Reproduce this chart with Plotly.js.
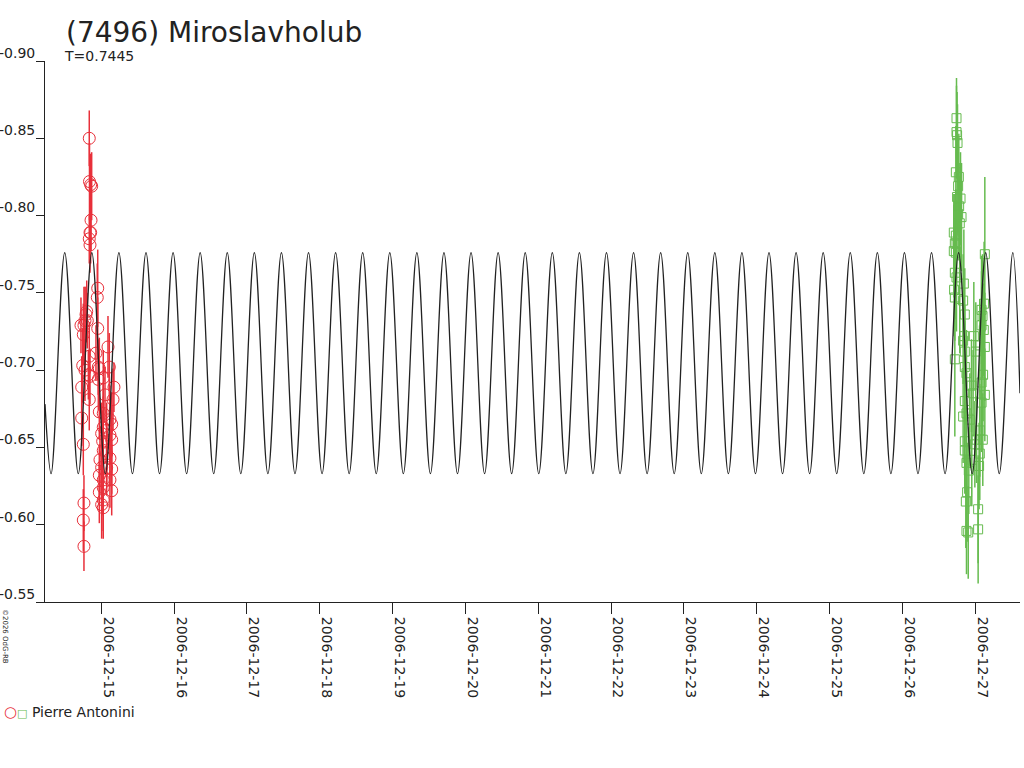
<!DOCTYPE html>
<html>
<head>
<meta charset="utf-8">
<script src="https://cdn.plot.ly/plotly-3.0.1.min.js"></script>
<style>
	html, body { margin: 0; padding: 0; background: #fff; }
	#chart { width: 1024px; height: 768px; }
</style>
</head>
<body>
<div id="chart"></div>
<script>
'use strict';

// times are days counted from 2006-12-15 00:00 UT
const redDay = [-0.165, -0.162, -0.146, -0.132, -0.141, -0.155, -0.146, -0.165, -0.155, -0.049,
	-0.055, -0.200, -0.210, -0.224, -0.238, -0.192, -0.049, -0.247, -0.165, -0.255,
	-0.224, -0.041, -0.027, 0.110, -0.155, -0.178, -0.041, 0.027, -0.269, 0.174,
	-0.165, -0.027, 0.027, 0.119, 0.143, -0.269, 0.027, 0.074, 0.005, 0.119,
	-0.247, 0.143, 0.019, 0.027, 0.074, -0.018, 0.119, 0.005, 0.074, 0.143,
	-0.027, 0.027, 0.119, -0.027, 0.027, 0.143, 0.027, 0.005, -0.238, 0.027,
	-0.247, -0.238, -0.279, 0.092, -0.073, 0.161, 0.051];
const redMag = [-0.850, -0.822, -0.820, -0.819, -0.797, -0.789, -0.789, -0.785, -0.781, -0.753,
	-0.747, -0.738, -0.736, -0.732, -0.729, -0.732, -0.727, -0.723, -0.709, -0.703,
	-0.700, -0.702, -0.701, -0.702, -0.696, -0.697, -0.694, -0.695, -0.689, -0.689,
	-0.681, -0.673, -0.672, -0.668, -0.665, -0.669, -0.663, -0.661, -0.659, -0.658,
	-0.652, -0.655, -0.654, -0.648, -0.646, -0.642, -0.643, -0.637, -0.637, -0.636,
	-0.632, -0.629, -0.629, -0.621, -0.624, -0.622, -0.616, -0.613, -0.614, -0.611,
	-0.603, -0.586, -0.729, -0.715, -0.711, -0.681, -0.684];
const redErr = [0.018, 0.025, 0.020, 0.022, 0.020, 0.018, 0.020, 0.016, 0.018, 0.025,
	0.022, 0.020, 0.018, 0.022, 0.025, 0.018, 0.020, 0.020, 0.022, 0.024,
	0.020, 0.018, 0.020, 0.022, 0.018, 0.016, 0.020, 0.018, 0.020, 0.016,
	0.020, 0.018, 0.020, 0.022, 0.020, 0.018, 0.020, 0.018, 0.020, 0.018,
	0.020, 0.022, 0.020, 0.018, 0.020, 0.022, 0.018, 0.020, 0.018, 0.016,
	0.020, 0.022, 0.018, 0.020, 0.018, 0.016, 0.020, 0.022, 0.018, 0.020,
	0.020, 0.016, 0.018, 0.020, 0.018, 0.020, 0.018];

const greenDay = [11.745, 11.745, 11.753, 11.759, 11.736, 11.777, 11.767, 11.753, 11.800, 11.781,
	11.767, 11.814, 11.790, 11.708, 11.736, 11.745, 11.722, 11.708, 11.736, 12.134,
	11.722, 11.745, 11.712, 11.722, 11.790, 11.836, 11.846, 12.124, 12.089, 11.859,
	12.102, 12.089, 12.120, 11.850, 11.983, 11.836, 12.134, 12.065, 11.859, 12.010,
	11.722, 11.859, 11.882, 12.110, 12.089, 11.951, 11.973, 11.859, 12.089, 11.836,
	11.882, 12.065, 12.020, 11.859, 11.859, 12.065, 12.055, 11.882, 11.891, 11.873,
	12.042, 11.906, 11.882, 12.042, 11.928, 11.997, 11.955, 12.134, 11.914, 12.106];
const greenMag = [-0.863, -0.854, -0.852, -0.847, -0.828, -0.825, -0.819, -0.812, -0.811, -0.806,
	-0.801, -0.799, -0.795, -0.789, -0.787, -0.782, -0.782, -0.777, -0.776, -0.775,
	-0.763, -0.760, -0.752, -0.747, -0.746, -0.745, -0.756, -0.743, -0.739, -0.736,
	-0.735, -0.729, -0.726, -0.722, -0.722, -0.719, -0.715, -0.716, -0.712, -0.712,
	-0.707, -0.702, -0.698, -0.697, -0.692, -0.690, -0.685, -0.680, -0.679, -0.670,
	-0.672, -0.661, -0.655, -0.654, -0.648, -0.646, -0.638, -0.640, -0.621, -0.615,
	-0.610, -0.595, -0.596, -0.597, -0.668, -0.652, -0.642, -0.684, -0.635, -0.655];
const greenErr = [0.026, 0.030, 0.028, 0.025, 0.030, 0.028, 0.030, 0.025, 0.030, 0.028,
	0.030, 0.035, 0.030, 0.025, 0.030, 0.028, 0.032, 0.030, 0.028, 0.050,
	0.030, 0.035, 0.030, 0.028, 0.035, 0.030, 0.035, 0.040, 0.035, 0.030,
	0.040, 0.035, 0.030, 0.030, 0.035, 0.028, 0.035, 0.030, 0.030, 0.032,
	0.050, 0.030, 0.028, 0.030, 0.032, 0.030, 0.028, 0.030, 0.032, 0.030,
	0.028, 0.030, 0.028, 0.030, 0.028, 0.030, 0.028, 0.030, 0.032, 0.030,
	0.035, 0.030, 0.028, 0.035, 0.030, 0.028, 0.030, 0.030, 0.028, 0.030];

// fitted curve, read at its turning points
const fitDay = [-0.773, -0.689, -0.502, -0.316, -0.130, 0.056, 0.242, 0.428, 0.614, 0.800,
	0.986, 1.172, 1.358, 1.544, 1.730, 1.916, 2.102, 2.288, 2.474, 2.660,
	2.846, 3.032, 3.218, 3.404, 3.590, 3.776, 3.962, 4.148, 4.334, 4.520,
	4.706, 4.892, 5.078, 5.264, 5.450, 5.636, 5.822, 6.008, 6.194, 6.380,
	6.566, 6.752, 6.938, 7.124, 7.310, 7.496, 7.682, 7.868, 8.054, 8.240,
	8.426, 8.612, 8.798, 8.984, 9.170, 9.356, 9.542, 9.728, 9.914, 10.100,
	10.286, 10.472, 10.658, 10.844, 11.030, 11.216, 11.402, 11.588, 11.774, 11.960,
	12.146, 12.332, 12.518, 12.617];
const fitMag = [-0.678, -0.633, -0.776, -0.633, -0.776, -0.633, -0.776, -0.633, -0.776, -0.633,
	-0.776, -0.633, -0.776, -0.633, -0.776, -0.633, -0.776, -0.633, -0.776, -0.633,
	-0.776, -0.633, -0.776, -0.633, -0.776, -0.633, -0.776, -0.633, -0.776, -0.633,
	-0.776, -0.633, -0.776, -0.633, -0.776, -0.633, -0.776, -0.633, -0.776, -0.633,
	-0.776, -0.633, -0.776, -0.633, -0.776, -0.633, -0.776, -0.633, -0.776, -0.633,
	-0.776, -0.633, -0.776, -0.633, -0.776, -0.633, -0.776, -0.633, -0.776, -0.633,
	-0.776, -0.633, -0.776, -0.633, -0.776, -0.633, -0.776, -0.633, -0.776, -0.633,
	-0.776, -0.633, -0.776, -0.685];

const yTickVals = [-0.90, -0.85, -0.80, -0.75, -0.70, -0.65, -0.60, -0.55];
const yTickText = ['-0.90', '-0.85', '-0.80', '-0.75', '-0.70', '-0.65', '-0.60', '-0.55'];

const dayStart = -0.773, dayEnd = 12.617;
const BASE = Date.UTC(2006, 11, 15);

function toMs(days)
{
	return days.map(function(d) { return BASE + d * 86400000; });
}

const font = 'DejaVu Sans, Liberation Sans, sans-serif';
const red = '#e8303a', green = '#66bb4f', ink = '#222222';

const traces = [
	{
		x: toMs(redDay), y: redMag, type: 'scatter', mode: 'markers',
		error_y: { type: 'data', array: redErr, visible: true, color: red, thickness: 1.5, width: 0 },
		marker: { symbol: 'circle-open', size: 12, color: red, line: { width: 1, color: red } },
		hoverinfo: 'none'
	},
	{
		x: toMs(greenDay), y: greenMag, type: 'scatter', mode: 'markers',
		error_y: { type: 'data', array: greenErr, visible: true, color: green, thickness: 1.5, width: 0 },
		marker: { symbol: 'square-open', size: 9, color: green, line: { width: 1, color: green } },
		hoverinfo: 'none'
	},
	{
		x: toMs(fitDay), y: fitMag, type: 'scatter', mode: 'lines',
		line: { color: ink, width: 1.3, shape: 'spline', smoothing: 1 },
		hoverinfo: 'none'
	}
];

// paper coordinates from pixel positions of the picture
function px(x) { return (x - 45) / 975; }
function py(y) { return (602 - y) / 541; }

const layout = {
	width: 1024,
	height: 768,
	margin: { l: 45, r: 4, t: 61, b: 166, pad: 0 },
	paper_bgcolor: '#ffffff',
	plot_bgcolor: '#ffffff',
	showlegend: false,
	font: { family: font, color: ink, size: 14 },
	title: {
		text: '(7496) Miroslavholub',
		font: { family: font, size: 28, color: ink },
		xref: 'container', yref: 'container',
		x: 66 / 1024, xanchor: 'left',
		y: 1 - 22 / 768, yanchor: 'top',
		pad: { t: 0, l: 0, r: 0, b: 0 }
	},
	xaxis: {
		type: 'date',
		range: [BASE + dayStart * 86400000, BASE + dayEnd * 86400000],
		tick0: BASE,
		dtick: 86400000,
		tickformat: '%Y-%m-%d',
		tickangle: 90,
		ticks: 'outside',
		ticklen: 11,
		tickwidth: 1,
		tickcolor: ink,
		ticklabelshift: 7,
		showline: true,
		linecolor: ink,
		linewidth: 1,
		showgrid: false,
		zeroline: false,
		tickfont: { family: font, size: 14, color: ink }
	},
	yaxis: {
		range: [-0.55, -0.90],
		tickvals: yTickVals,
		ticktext: yTickText,
		ticks: 'outside',
		ticklen: 8,
		tickwidth: 1,
		tickcolor: ink,
		ticklabelshift: 8,
		ticklabelstandoff: -2,
		showline: true,
		linecolor: ink,
		linewidth: 1,
		showgrid: false,
		zeroline: false,
		tickfont: { family: font, size: 14, color: ink }
	},
	annotations: [
		{
			text: 'T=0.7445', xref: 'paper', yref: 'paper',
			x: px(62), y: py(56), xanchor: 'left', yanchor: 'middle',
			showarrow: false, font: { family: font, size: 14, color: ink }
		},
		{
			text: '<span style="color:' + red + ';font-size:15px">○</span><span style="color:' + green + ';font-size:11px">□</span> Pierre Antonini',
			xref: 'paper', yref: 'paper',
			x: px(2), y: py(712), xanchor: 'left', yanchor: 'middle',
			showarrow: false, font: { family: font, size: 14, color: ink }
		},
		{
			text: '©2026 OdG-RB', xref: 'paper', yref: 'paper',
			x: px(5), y: py(636), xanchor: 'center', yanchor: 'middle',
			textangle: 90, showarrow: false, font: { family: font, size: 7, color: ink }
		}
	]
};

Plotly.newPlot('chart', traces, layout, { staticPlot: true, displayModeBar: false });
</script>
</body>
</html>
